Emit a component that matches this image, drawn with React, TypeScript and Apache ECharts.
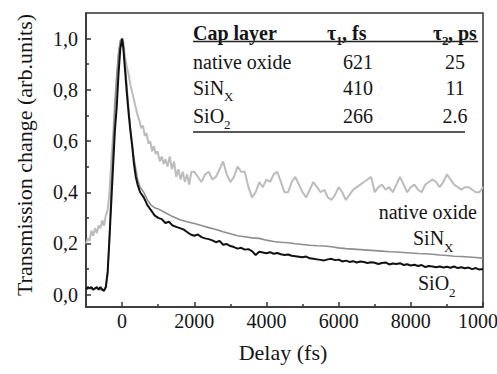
import React, { useEffect, useRef } from "react";
import * as echarts from "echarts";

const FONT = "'Liberation Serif', 'Times New Roman', 'DejaVu Serif', serif";
const INK = "#151515";

// Native oxide (light grey)
const nativeX = [-1000,-950,-900,-850,-800,-750,-700,-650,-600,-550,-500,-450,-400,-350,-300,-250,-200,-150,-100,-50,0,30,80,130,180,230,280,330,380,430,480,530,580,630,680,730,780,830,880,930,980,1050,1100,1150,1200,1260,1320,1380,1440,1500,1560,1620,1680,1740,1800,1860,1920,2000,2100,2200,2300,2400,2500,2600,2700,2800,2900,3000,3100,3200,3300,3400,3500,3600,3700,3800,3900,4000,4100,4200,4300,4400,4500,4600,4700,4800,4900,5000,5100,5200,5300,5400,5500,5600,5700,5800,5900,6000,6100,6200,6300,6400,6500,6600,6700,6800,6900,7000,7100,7200,7300,7400,7500,7600,7700,7800,7900,8000,8100,8200,8300,8400,8500,8600,8700,8800,8900,9000,9100,9200,9300,9400,9500,9600,9700,9800,9900,10000];
const nativeY = [0.20,0.22,0.21,0.25,0.23,0.26,0.24,0.27,0.26,0.29,0.27,0.31,0.33,0.40,0.52,0.62,0.75,0.84,0.93,0.99,1.00,0.99,0.93,0.89,0.86,0.82,0.79,0.76,0.73,0.70,0.68,0.65,0.66,0.62,0.63,0.59,0.60,0.56,0.58,0.55,0.56,0.52,0.54,0.51,0.53,0.50,0.54,0.49,0.52,0.46,0.49,0.45,0.48,0.44,0.47,0.43,0.48,0.48,0.46,0.44,0.47,0.48,0.45,0.46,0.49,0.52,0.47,0.44,0.46,0.50,0.48,0.48,0.42,0.38,0.40,0.44,0.42,0.45,0.44,0.47,0.48,0.44,0.40,0.40,0.44,0.46,0.43,0.40,0.38,0.41,0.44,0.42,0.40,0.41,0.38,0.37,0.39,0.42,0.40,0.37,0.39,0.41,0.42,0.43,0.44,0.45,0.46,0.40,0.42,0.43,0.41,0.42,0.40,0.43,0.46,0.43,0.40,0.42,0.43,0.41,0.40,0.43,0.44,0.45,0.44,0.42,0.44,0.47,0.45,0.43,0.42,0.41,0.42,0.42,0.41,0.40,0.40,0.42];

// SiNx (mid grey)
const sinX = [-1000,-900,-800,-700,-600,-500,-450,-400,-350,-300,-250,-200,-150,-100,-50,0,30,80,130,180,230,280,330,380,430,500,600,700,800,900,1000,1200,1400,1600,1800,2000,2200,2400,2600,2800,3000,3200,3400,3600,3800,4000,4200,4400,4600,4800,5000,5200,5400,5600,5800,6000,6200,6400,6600,6800,7000,7200,7400,7600,7800,8000,8200,8400,8600,8800,9000,9200,9400,9600,9800,10000];
const sinY = [0.02,0.025,0.02,0.025,0.02,0.02,0.03,0.08,0.22,0.42,0.58,0.73,0.85,0.94,0.99,1.00,0.98,0.90,0.82,0.73,0.65,0.59,0.53,0.49,0.45,0.42,0.40,0.37,0.35,0.34,0.335,0.32,0.305,0.293,0.285,0.278,0.27,0.262,0.255,0.246,0.238,0.23,0.226,0.222,0.22,0.213,0.208,0.205,0.203,0.199,0.196,0.193,0.191,0.19,0.187,0.183,0.18,0.178,0.176,0.174,0.172,0.17,0.168,0.167,0.165,0.163,0.161,0.16,0.158,0.155,0.153,0.15,0.149,0.147,0.145,0.143];

// SiO2 (black)
const sioX = [-1000,-950,-900,-850,-800,-750,-700,-650,-600,-550,-500,-450,-400,-350,-300,-250,-200,-150,-100,-50,0,30,80,130,180,230,280,330,380,430,500,600,700,800,900,1000,1100,1200,1300,1400,1500,1600,1700,1800,1900,2000,2100,2200,2300,2400,2500,2600,2700,2800,2900,3000,3100,3200,3300,3400,3500,3600,3700,3800,3900,4000,4100,4200,4300,4400,4500,4600,4700,4800,4900,5000,5100,5200,5300,5400,5500,5600,5700,5800,5900,6000,6100,6200,6300,6400,6500,6600,6700,6800,6900,7000,7100,7200,7300,7400,7500,7600,7700,7800,7900,8000,8100,8200,8300,8400,8500,8600,8700,8800,8900,9000,9100,9200,9300,9400,9500,9600,9700,9800,9900,10000];
const sioY = [0.02,0.03,0.025,0.03,0.02,0.025,0.03,0.02,0.03,0.02,0.015,0.03,0.09,0.22,0.36,0.50,0.64,0.73,0.86,0.96,1.00,0.97,0.88,0.79,0.71,0.64,0.58,0.51,0.46,0.43,0.40,0.38,0.35,0.33,0.31,0.30,0.295,0.28,0.285,0.27,0.265,0.26,0.255,0.245,0.235,0.23,0.235,0.225,0.22,0.217,0.212,0.205,0.21,0.195,0.198,0.19,0.186,0.18,0.183,0.176,0.178,0.17,0.155,0.168,0.165,0.162,0.166,0.16,0.163,0.158,0.155,0.157,0.152,0.15,0.148,0.146,0.149,0.142,0.14,0.138,0.136,0.134,0.138,0.14,0.135,0.137,0.13,0.133,0.128,0.131,0.126,0.13,0.128,0.124,0.127,0.125,0.12,0.124,0.126,0.118,0.122,0.12,0.123,0.116,0.119,0.114,0.117,0.112,0.116,0.108,0.112,0.11,0.107,0.11,0.106,0.109,0.105,0.11,0.104,0.107,0.103,0.106,0.1,0.104,0.098,0.1];

const xMajor = [0, 2000, 4000, 6000, 8000, 10000];
const xMinor = [1000, 3000, 5000, 7000, 9000];
const yMajor = [0, 0.2, 0.4, 0.6, 0.8, 1.0];
const yMinor = [0.1, 0.3, 0.5, 0.7, 0.9];

const tableRows = ["native oxide", "SiN", "SiO"];
const tau1 = ["621", "410", "266"];
const tau2 = ["25", "11", "2.6"];

const zip = (xs: number[], ys: number[]) => xs.map((x, i) => [x, ys[i]]);

export default function App() {
  const ref = useRef<HTMLDivElement>(null);
  useEffect(() => {
    if (!ref.current) return;
    const chart = echarts.init(ref.current, null, { renderer: "svg" });
    const axisLineStyle = { color: "#333", width: 1.5 };
    const txt = (x: number, y: number, text: string, extra: any = {}) => ({
      type: "text",
      x,
      y,
      style: {
        text,
        fontFamily: FONT,
        fontSize: extra.size || 20,
        fontWeight: extra.bold ? "bold" : "normal",
        fill: INK,
        align: extra.align || "left",
        verticalAlign: "middle",
      },
    });
    const rowY = [62, 88, 116];
    const graphic: any[] = [
      txt(193, 33, "Cap layer", { bold: true }),
      txt(327, 33, "τ", { bold: true }),
      txt(336, 40, "1", { bold: true, size: 13 }),
      txt(342, 33, ", fs", { bold: true }),
      txt(433, 33, "τ", { bold: true }),
      txt(442, 40, "2", { bold: true, size: 13 }),
      txt(448, 33, ", ps", { bold: true }),
      { type: "line", shape: { x1: 193, y1: 41.5, x2: 478, y2: 41.5 }, style: { stroke: "#222", lineWidth: 1.5 } },
      { type: "line", shape: { x1: 193, y1: 132, x2: 465, y2: 132 }, style: { stroke: "#222", lineWidth: 1.5 } },
      txt(193, rowY[0], tableRows[0]),
      txt(193, rowY[1], tableRows[1]),
      txt(224, rowY[1] + 8, "X", { size: 13 }),
      txt(193, rowY[2], tableRows[2]),
      txt(224, rowY[2] + 8, "2", { size: 13 }),
      ...tau1.map((v, i) => txt(358, rowY[i], v, { align: "center" })),
      ...tau2.map((v, i) => txt(455, rowY[i], v, { align: "center" })),
      // curve labels
      txt(477, 212, "native oxide", { align: "right" }),
      txt(413, 238, "SiN"),
      txt(444, 247, "X", { size: 13 }),
      txt(418, 283, "SiO"),
      txt(449, 292, "2", { size: 13 }),
      // axis titles
      { type: "text", x: 283, y: 352, style: { text: "Delay (fs)", fontFamily: FONT, fontSize: 22, fill: INK, align: "center", verticalAlign: "middle" } },
      { type: "text", x: 24, y: 155, rotation: Math.PI / 2, style: { text: "Transmission change (arb.units)", fontFamily: FONT, fontSize: 22, fill: INK, align: "center", verticalAlign: "middle" } },
    ];
    chart.setOption({
      animation: false,
      grid: { left: 86, top: 13, width: 397, height: 294, show: true, borderColor: "#333", borderWidth: 1.5 },
      xAxis: [
        {
          type: "value", min: -1000, max: 10000,
          axisLine: { show: true, onZero: false, lineStyle: axisLineStyle },
          axisTick: { show: true, inside: true, length: 5, customValues: xMajor, lineStyle: axisLineStyle },
          axisLabel: { customValues: xMajor, fontFamily: FONT, fontSize: 20, color: INK, margin: 4, formatter: (v: number) => String(v) },
          splitLine: { show: false },
        },
        {
          type: "value", min: -1000, max: 10000, position: "bottom",
          axisLine: { show: false, onZero: false },
          axisTick: { show: true, inside: true, length: 3, customValues: xMinor, lineStyle: axisLineStyle },
          axisLabel: { show: false },
          splitLine: { show: false },
        },
      ],
      yAxis: [
        {
          type: "value", min: -0.048, max: 1.1,
          axisLine: { show: true, onZero: false, lineStyle: axisLineStyle },
          axisTick: { show: true, inside: true, length: 5, customValues: yMajor, lineStyle: axisLineStyle },
          axisLabel: { customValues: yMajor, fontFamily: FONT, fontSize: 20, color: INK, margin: 8, formatter: (v: number) => v.toFixed(1).replace(".", ",") },
          splitLine: { show: false },
        },
        {
          type: "value", min: -0.048, max: 1.1, position: "left",
          axisLine: { show: false, onZero: false },
          axisTick: { show: true, inside: true, length: 3, customValues: yMinor, lineStyle: axisLineStyle },
          axisLabel: { show: false },
          splitLine: { show: false },
        },
      ],
      series: [
        { name: "native oxide", type: "line", showSymbol: false, data: zip(nativeX, nativeY), lineStyle: { color: "#bcbcbc", width: 2 }, itemStyle: { color: "#bcbcbc" }, z: 1 },
        { name: "SiNx", type: "line", showSymbol: false, data: zip(sinX, sinY), lineStyle: { color: "#8e8e8e", width: 1.6 }, itemStyle: { color: "#8e8e8e" }, z: 2 },
        { name: "SiO2", type: "line", showSymbol: false, data: zip(sioX, sioY), lineStyle: { color: "#111", width: 2 }, itemStyle: { color: "#111" }, z: 3 },
      ],
      graphic,
    });
    return () => chart.dispose();
  }, []);
  return (
    <div style={{ position: "absolute", left: 0, top: 0, width: 497, height: 374, overflow: "hidden" }}>
      <div ref={ref} style={{ width: 560, height: 374 }} />
    </div>
  );
}
